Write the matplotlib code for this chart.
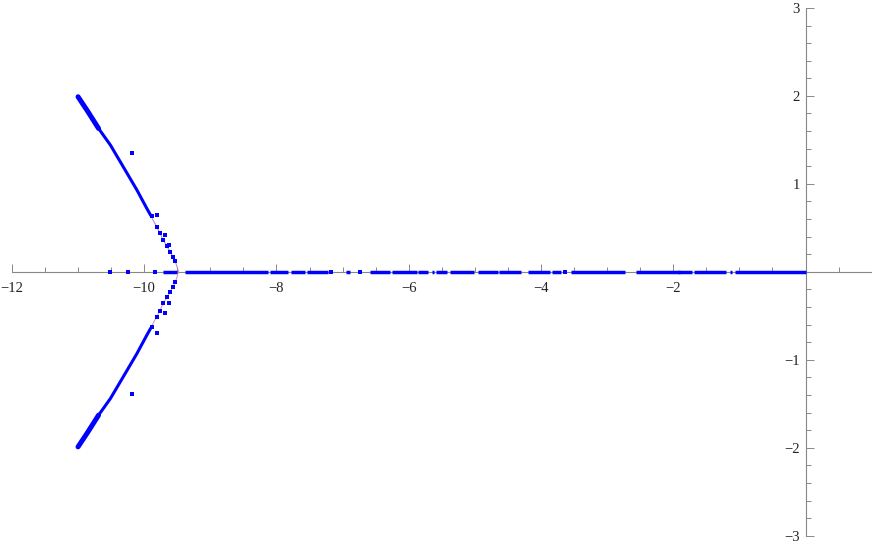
import matplotlib
matplotlib.use('Agg')
import matplotlib.pyplot as plt
from matplotlib.ticker import MultipleLocator, FixedLocator, FixedFormatter

# root locus

# real axis: stretches densely covered by roots (start, end)
axis_segments = [(-9.71, -9.51), (-9.38, -8.13), (-8.10, -7.82), (-7.78, -7.57),
                 (-7.54, -7.22), (-6.95, -6.89), (-6.59, -6.29), (-6.26, -5.88),
                 (-5.86, -5.71), (-5.65, -5.62), (-5.58, -5.42), (-5.38, -5.02),
                 (-4.96, -4.65), (-4.63, -4.30), (-4.19, -3.86), (-3.84, -3.69),
                 (-3.55, -2.73), (-2.57, -1.90), (-1.93, -1.72), (-1.68, -1.21),
                 (-1.14, -1.11), (-1.07, 0.0)]
# single roots on the real axis
axis_points = [-10.52, -10.25, -9.83, -7.17, -6.74, -3.63]

# upper branch, dense part
branch_x = [-11.0, -10.85, -10.69, -10.51, -10.29, -10.11, -9.96, -9.90]
branch_y = [1.99, 1.82, 1.63, 1.44, 1.16, 0.93, 0.72, 0.64]
# heavy band at the end of the branch
band_x = [-11.0, -10.85, -10.69]
band_y = [1.99, 1.82, 1.63]
# sparse roots near the breakaway point
sparse_x = [-9.88, -9.81, -9.76, -9.71, -9.65, -9.61, -9.57, -9.53]
sparse_y = [0.63, 0.51, 0.44, 0.36, 0.29, 0.23, 0.17, 0.12]
# stray roots
stray_up_x = [-10.19, -9.80, -9.68, -9.63]
stray_up_y = [1.35, 0.65, 0.42, 0.31]
stray_lo_x = [-10.19, -9.80, -9.68, -9.63]
stray_lo_y = [-1.39, -0.70, -0.47, -0.36]

# thin locus line
locus_x = [-11.0, -10.69, -10.51, -10.29, -10.11, -9.96, -9.81, -9.71, -9.61, -9.53, -9.48]
locus_y = [1.99, 1.63, 1.44, 1.16, 0.93, 0.72, 0.51, 0.36, 0.23, 0.12, 0.0]

xticks = [-12, -10, -8, -6, -4, -2]
xlabels = ['\u221212', '\u221210', '\u22128', '\u22126', '\u22124', '\u22122']
yticks = [-3, -2, -1, 1, 2, 3]
ylabels = ['\u22123', '\u22122', '\u22121', '1', '2', '3']

blue = '#0000ff'
gray = '#888888'

fig = plt.figure(figsize=(8.72, 5.48), dpi=100)
ax = fig.add_axes([0, 0, 1, 1])
ax.set_xlim(-12.18, 1.005)
ax.set_ylim(-3.14, 3.09)

# locus lines
ax.plot(locus_x, locus_y, color='#b080c0', lw=0.7, zorder=2)
ax.plot(locus_x, [-v for v in locus_y], color='#e090b0', lw=0.7, zorder=2)

for sign in (1, -1):
    ax.plot(branch_x, [sign * v for v in branch_y], color=blue, lw=2.2,
            solid_capstyle='round', zorder=3)
    ax.plot(band_x, [sign * v for v in band_y], color=blue, lw=3.6,
            solid_capstyle='round', zorder=3)
    ax.plot(sparse_x, [sign * v for v in sparse_y], 's', color=blue, ms=2.4,
            mew=0, zorder=3)

ax.plot(stray_up_x, stray_up_y, 's', color=blue, ms=2.6, mew=0, zorder=3)
ax.plot(stray_lo_x, stray_lo_y, 's', color=blue, ms=2.6, mew=0, zorder=3)

for a, b in axis_segments:
    ax.plot([a, b], [0, 0], color=blue, lw=2.5, solid_capstyle='butt', zorder=3)
ax.plot(axis_points, [0] * len(axis_points), 's', color=blue, ms=2.6, mew=0, zorder=3)

# Mathematica-like axes through the origin
for s in ['top', 'right']:
    ax.spines[s].set_visible(False)
ax.spines['bottom'].set_position(('data', 0))
ax.spines['left'].set_position(('data', 0))
ax.spines['bottom'].set_bounds(-12, 1.0)
ax.spines['left'].set_bounds(-3, 3)
for s in ['bottom', 'left']:
    ax.spines[s].set_color(gray)
    ax.spines[s].set_linewidth(0.8)
    ax.spines[s].set_zorder(1)

ax.xaxis.set_major_locator(FixedLocator(xticks + [0]))
ax.xaxis.set_major_formatter(FixedFormatter(xlabels + ['']))
ax.xaxis.set_minor_locator(MultipleLocator(0.5))
ax.yaxis.set_major_locator(FixedLocator(yticks))
ax.yaxis.set_major_formatter(FixedFormatter(ylabels))
ax.yaxis.set_minor_locator(MultipleLocator(0.2))

ax.tick_params(which='both', direction='in', color=gray, width=0.7,
               labelsize=10.5, labelcolor='#222222')
ax.tick_params(which='major', length=6)
ax.tick_params(which='minor', length=3.5)
ax.tick_params(axis='x', pad=7)
ax.tick_params(axis='y', pad=4)
for lab in ax.get_xticklabels() + ax.get_yticklabels():
    lab.set_family(['Liberation Serif', 'DejaVu Serif'])

fig.savefig('out.png', dpi=100)
